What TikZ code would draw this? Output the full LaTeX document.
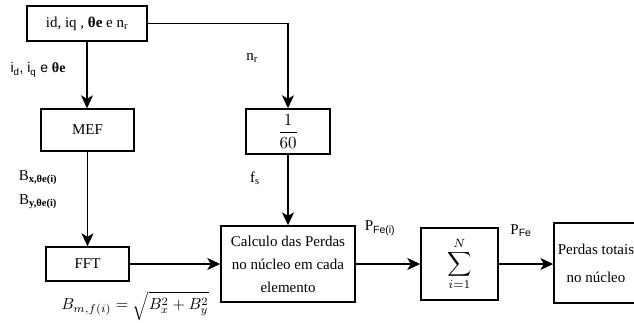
\documentclass[tikz,border=0pt]{standalone}
\usepackage{graphicx}
\usepackage[no-math]{fontspec}
\setmainfont{Liberation Serif}
\setsansfont{Liberation Sans}
\usetikzlibrary{arrows.meta}
\begin{document}
\begin{tikzpicture}[x=1pt,y=-1pt,
  box/.style={draw, line width=1.4pt, inner sep=0pt, font=\fontsize{15}{23}\selectfont, align=center},
  arr/.style={line width=1.4pt, -{Stealth[length=13pt,width=12pt,inset=3.5pt]}},
  lbl/.style={font=\fontsize{15}{18}\selectfont, inner sep=0pt}]
\useasboundingbox (0,0) rectangle (634,322);
\node[box, minimum width=120, minimum height=35] (top) at (87,23.5) {id, iq , \textbf{θe} e n\textsubscript{r}};
\node[box, minimum width=93, minimum height=42] (mef) at (87.5,130) {MEF};
\node[box, minimum width=84, minimum height=45] (frac) at (288,131.5) {\scalebox{1.7}{\normalsize$\displaystyle\frac{1}{60}$}};
\node[box, minimum width=83, minimum height=34] (fft) at (87.5,264) {FFT};
\node[box, minimum width=134, minimum height=76] (calc) at (288,264) {Calculo das Perdas\\no núcleo em cada\\elemento};
\node[box, minimum width=77, minimum height=72] (sum) at (459.5,264) {\scalebox{1.7}{\normalsize$\displaystyle\sum_{i=1}^{N}$}};
\node[box, minimum width=84, minimum height=80, font=\fontsize{15}{28}\selectfont] (tot) at (596,263) {Perdas totais\\no núcleo};

\draw[arr] (top.south) -- (top.south |- mef.north);
\draw[arr] (top.east) -| (frac.north);
\draw[arr] (mef.south) -- (fft.north);
\draw[arr] (frac.south) -- (calc.north);
\draw[arr] (fft.east) -- (fft.east -| calc.west);
\draw[arr] (calc.east) -- (sum.west);
\draw[arr] (sum.east) -- (sum.east -| tot.west);

\node[lbl, font=\fontsize{14}{17}\selectfont\sffamily] (lidq) at (38,70) {i\textsubscript{d}, i\textsubscript{q} e \rmfamily\textbf{θe}};
\node[lbl] (lnr) at (252,58) {n\textsubscript{r}};
\node[lbl] (lbx) at (38,178) {B\textsubscript{\textbf{x,θe(i)}}};
\node[lbl] (lby) at (38,202) {B\textsubscript{\textbf{y,θe(i)}}};
\node[lbl] (lfs) at (255,178) {f\textsubscript{s}};
\node[lbl] (lpfei) at (380,228) {P\textsubscript{\sffamily Fe(i)}};
\node[lbl] (lpfe) at (521,231) {P\textsubscript{\sffamily Fe}};
\node[lbl] (lbm) at (135,306) {\scalebox{1.6}{\normalsize$B_{m,f(i)} = \sqrt{B_x^2 + B_y^2}$}};
\end{tikzpicture}
\end{document}
